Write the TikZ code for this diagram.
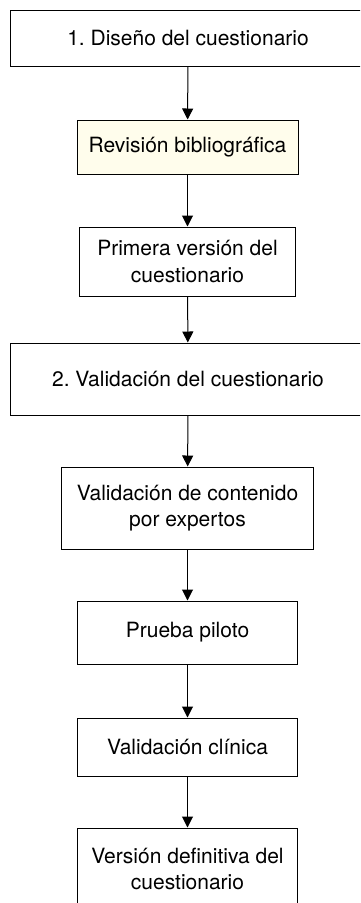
\documentclass[tikz,border=0pt]{standalone}
\usepackage{fontspec}
\setmainfont{TeX Gyre Heros}
\usetikzlibrary{arrows.meta}

\definecolor{reviewFill}{RGB}{255,253,236}

\tikzset{
  procBox/.style={draw, line width=1pt, align=center, inner sep=0pt,
    font=\fontsize{21}{26.5}\selectfont\frenchspacing},
  flowArrow/.style={-{Triangle[width=11pt,length=11pt]}, line width=1pt}
}

\begin{document}
\begin{tikzpicture}[x=1pt,y=-1pt]

  % Page frame (the outer boxes run past the right and bottom edges)
  \useasboundingbox (0,0) rectangle (360,903);
  \clip (0,0) rectangle (360,903);

  % 1. Design phase
  \node[procBox, minimum width=356pt, minimum height=56pt] (design) at (188,38) {1. Diseño del cuestionario};
  \node[procBox, fill=reviewFill, minimum width=221pt, minimum height=54pt] (review) at (187.5,147) {Revisión bibliográfica};
  \node[procBox, minimum width=216pt, minimum height=69pt] (firstVersion) at (187.5,261.5) {Primera versión del\\cuestionario};

  % 2. Validation phase
  \node[procBox, minimum width=356pt, minimum height=72pt] (validation) at (188,379) {2. Validación del cuestionario};
  \node[procBox, minimum width=252pt, minimum height=82pt] (experts) at (187.5,508) {Validación de contenido\\por expertos};
  \node[procBox, minimum width=220pt, minimum height=63pt] (pilot) at (187.5,632.5) {Prueba piloto};
  \node[procBox, minimum width=220pt, minimum height=58pt] (clinical) at (187.5,747) {Validación clínica};
  \node[procBox, minimum width=220pt, minimum height=82pt] (finalVersion) at (187.5,869) {Versión definitiva del\\cuestionario};

  % Connectors
  \draw[flowArrow] (design) -- (review);
  \draw[flowArrow] (review) -- (firstVersion);
  \draw[flowArrow] (firstVersion) -- (validation);
  \draw[flowArrow] (validation) -- (experts);
  \draw[flowArrow] (experts) -- (pilot);
  \draw[flowArrow] (pilot) -- (clinical);
  \draw[flowArrow] (clinical) -- (finalVersion);

\end{tikzpicture}
\end{document}
